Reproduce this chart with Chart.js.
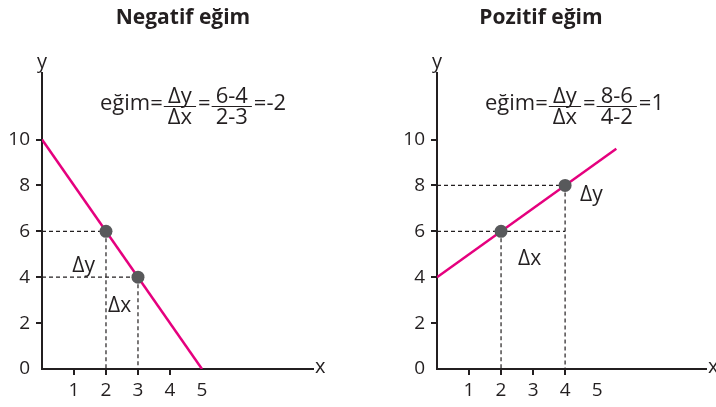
<!DOCTYPE html>
<html lang="tr">
<head>
<meta charset="UTF-8">
<title>Negatif ve pozitif eğim</title>
<script src="https://cdn.jsdelivr.net/npm/chart.js"></script>
<style>
  body { margin: 0; background: #fff; }
  #wrap { position: relative; width: 716px; height: 407px; }
  .pane { position: absolute; top: 0; width: 358px; height: 407px; }
  #left { left: 0; }
  #right { left: 358px; }
</style>
</head>
<body>
<div id="wrap">
  <div class="pane" id="left"><canvas id="negChart" width="358" height="407"></canvas></div>
  <div class="pane" id="right"><canvas id="posChart" width="358" height="407"></canvas></div>
</div>
<script>
const yTicks = [0, 2, 4, 6, 8, 10];
const xTicks = [1, 2, 3, 4, 5];

// Negatif eğim
const negLineX = [0, 5];
const negLineY = [10, 0];
const negPointX = [2, 3];
const negPointY = [6, 4];

// Pozitif eğim
const posLineX = [0, 5.6];
const posLineY = [4, 9.6];
const posPointX = [2, 4];
const posPointY = [6, 8];

const INK = '#231f20';
const PINK = '#e5007e';
const DOT = '#58595b';
const FONT = '"Open Sans", "Noto Sans", sans-serif';

function guideLines(px, py) {
  // dashed helper lines: horizontal from the y axis, vertical down to the x axis
  const lowY = Math.min(...py), maxX = Math.max(...px);
  const out = [];
  px.forEach((x, i) => {
    const y = py[i];
    out.push([{x: 0, y: y}, {x: y === lowY ? maxX : x, y: y}]);
    out.push([{x: x, y: y}, {x: x, y: 0}]);
  });
  return out;
}

function formulaParts(px, py) {
  const hi = py[0] >= py[1] ? 0 : 1, lo = 1 - hi;
  const slope = (py[hi] - py[lo]) / (px[hi] - px[lo]);
  return ['eğim=', ['Δy', 'Δx'], '=',
          [py[hi] + '-' + py[lo], px[hi] + '-' + px[lo]], '=' + slope];
}

function drawFormula(ctx, parts, x, bar) {
  ctx.font = '22px ' + FONT;
  ctx.textAlign = 'left';
  ctx.textBaseline = 'alphabetic';
  parts.forEach(p => {
    if (typeof p === 'string') {
      ctx.fillText(p, x, bar + 4);
      x += ctx.measureText(p).width + 1;
    } else {
      const w = Math.max(ctx.measureText(p[0]).width, ctx.measureText(p[1]).width) + 8;
      ctx.fillText(p[0], x + (w - ctx.measureText(p[0]).width) / 2, bar - 3);
      ctx.fillText(p[1], x + (w - ctx.measureText(p[1]).width) / 2, bar + 18);
      ctx.beginPath();
      ctx.lineWidth = 1.2;
      ctx.strokeStyle = INK;
      ctx.moveTo(x, bar + 0.5);
      ctx.lineTo(x + w, bar + 0.5);
      ctx.stroke();
      x += w + 2;
    }
  });
}

const textPlugin = {
  id: 'texts',
  afterDraw(chart, args, o) {
    const ctx = chart.ctx, xs = chart.scales.x, ys = chart.scales.y;
    ctx.save();
    ctx.fillStyle = INK;
    ctx.font = 'bold 21px ' + FONT;
    ctx.textAlign = 'center';
    ctx.textBaseline = 'alphabetic';
    ctx.fillText(o.title, o.titleX, 24);

    ctx.font = '20px ' + FONT;
    ctx.fillText('y', xs.left, chart.chartArea.top - 5);
    ctx.textAlign = 'left';
    ctx.textBaseline = 'middle';
    ctx.fillText('x', xs.right + 2, ys.bottom - 2);

    ctx.font = '21px ' + FONT;
    ctx.textBaseline = 'alphabetic';
    o.deltas.forEach(d => {
      ctx.textAlign = d.align;
      ctx.fillText(d.text, xs.getPixelForValue(d.x) + d.dx, ys.getPixelForValue(d.y) + d.dy);
    });

    drawFormula(ctx, o.formula, o.fx, o.fy);
    ctx.restore();
  }
};

function makeChart(id, g) {
  const datasets = [
    {
      data: g.pointX.map((x, i) => ({x: x, y: g.pointY[i]})),
      showLine: false, pointRadius: 6.5, pointBackgroundColor: DOT,
      pointBorderWidth: 0, order: 0
    },
    {
      data: g.lineX.map((x, i) => ({x: x, y: g.lineY[i]})),
      showLine: true, borderColor: PINK, borderWidth: 2.5, pointRadius: 0, order: 1
    }
  ];
  guideLines(g.pointX, g.pointY).forEach(seg => datasets.push({
    data: seg, showLine: true, borderColor: INK, borderWidth: 1.2,
    borderDash: [4, 3], pointRadius: 0, order: 2
  }));

  return new Chart(document.getElementById(id), {
    type: 'scatter',
    data: { datasets: datasets },
    options: {
      responsive: false,
      animation: false,
      devicePixelRatio: 1,
      layout: { padding: { top: 73, right: g.padRight, left: 0, bottom: 0 } },
      plugins: {
        legend: { display: false },
        tooltip: { enabled: false },
        texts: {
          title: g.title, titleX: g.titleX, deltas: g.deltas,
          formula: formulaParts(g.pointX, g.pointY), fx: g.fx, fy: 106
        }
      },
      scales: {
        x: {
          type: 'linear', min: 0, max: g.xMax,
          afterBuildTicks: s => { s.ticks = xTicks.map(v => ({value: v})); },
          afterFit: s => { s.height = 407 - 369; },
          grid: {
            display: true, drawOnChartArea: false, drawTicks: true, tickLength: 6, lineWidth: 2,
            color: c => (c.tick && c.tick.value === 5) ? 'rgba(0,0,0,0)' : INK
          },
          border: { display: true, color: INK, width: 2 },
          ticks: { color: INK, font: { family: FONT, size: 19 }, padding: 4, maxRotation: 0, autoSkip: false }
        },
        y: {
          type: 'linear', min: 0, max: 12.9,
          afterBuildTicks: s => { s.ticks = yTicks.map(v => ({value: v})); },
          afterFit: s => { s.width = g.axisX; },
          grid: {
            display: true, drawOnChartArea: false, drawTicks: true, tickLength: 6, lineWidth: 2,
            color: c => (c.tick && c.tick.value === 0) ? 'rgba(0,0,0,0)' : INK
          },
          border: { display: true, color: INK, width: 2 },
          ticks: { color: INK, font: { family: FONT, size: 19 }, padding: 6, autoSkip: false }
        }
      }
    },
    plugins: [textPlugin]
  });
}

makeChart('negChart', {
  title: 'Negatif eğim', titleX: 183,
  lineX: negLineX, lineY: negLineY, pointX: negPointX, pointY: negPointY,
  axisX: 42, padRight: 45, xMax: 8.47, fx: 100,
  deltas: [
    { text: 'Δy', x: 2, y: 4, dx: -11, dy: -5, align: 'right' },
    { text: 'Δx', x: 2, y: 3, dx: 2, dy: 12, align: 'left' }
  ]
});

makeChart('posChart', {
  title: 'Pozitif eğim', titleX: 183,
  lineX: posLineX, lineY: posLineY, pointX: posPointX, pointY: posPointY,
  axisX: 79, padRight: 10, xMax: 8.4, fx: 127,
  deltas: [
    { text: 'Δy', x: 4, y: 8, dx: 15, dy: 16, align: 'left' },
    { text: 'Δx', x: 2, y: 6, dx: 17, dy: 34, align: 'left' }
  ]
});
</script>
</body>
</html>
